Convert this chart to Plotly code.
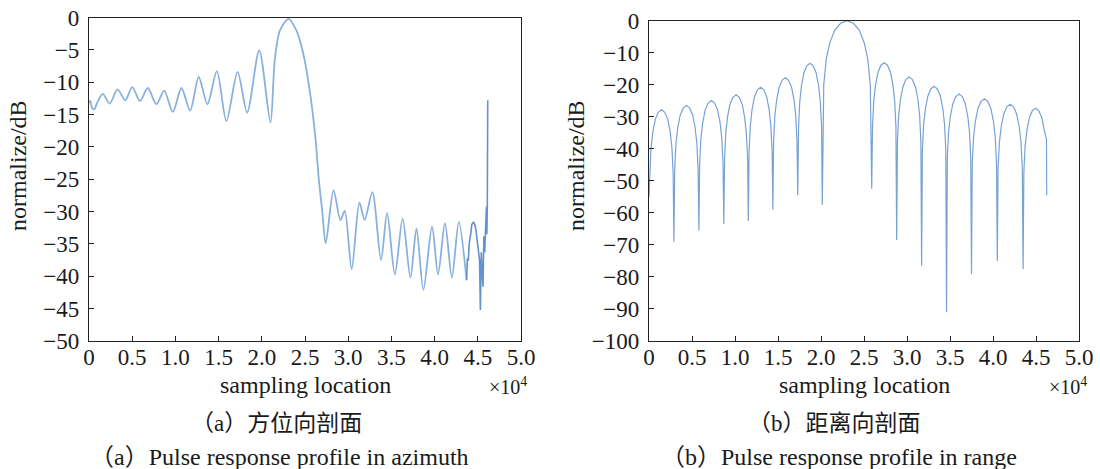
import plotly.graph_objects as go

# ---------------- data (x in units of 1e4 sampling locations, y in dB) ----------------
az_x = [0.000, 0.015, 0.035, 0.06, 0.10, 0.16, 0.24, 0.33, 0.42, 0.50, 0.59, 0.68, 0.78,
        0.87, 0.97, 1.07, 1.17, 1.27, 1.37, 1.48, 1.59, 1.72, 1.83, 1.97, 2.10, 2.15,
        2.21, 2.31, 2.40, 2.48, 2.56, 2.62, 2.66, 2.70, 2.74, 2.83, 2.91, 2.96, 3.04,
        3.13, 3.19, 3.28, 3.38, 3.45, 3.54, 3.63, 3.72, 3.79, 3.87, 3.97, 4.04, 4.12,
        4.20, 4.28, 4.37]
az_y = [-13.2, -12.9, -14.0, -14.2, -13.0, -11.8, -13.3, -11.1, -12.8, -10.75, -12.9, -10.9, -13.4,
        -11.3, -14.6, -10.9, -14.4, -9.2, -13.4, -8.3, -16.0, -8.4, -14.7, -5.1, -16.2, -6.6,
        -2.0, -0.2, -2.0, -5.6, -11.8, -18.5, -25.0, -30.0, -34.9, -26.7, -31.3, -29.9, -38.9,
        -28.6, -31.3, -27.0, -37.5, -30.2, -39.7, -31.1, -40.2, -32.6, -42.1, -32.3, -39.7, -31.8,
        -40.2, -31.6, -40.6]

az_tail_x = [4.37, 4.38, 4.39, 4.40, 4.42, 4.43, 4.45, 4.47, 4.48, 4.50, 4.51, 4.52, 4.53,
             4.54, 4.56, 4.57, 4.58, 4.59, 4.60, 4.605, 4.61, 4.615]
az_tail_y = [-40.6, -37.2, -37.6, -35.0, -33.3, -32.0, -31.6, -32.2, -33.0, -35.5, -37.0, -37.5, -45.2,
             -36.3, -41.6, -33.8, -36.3, -32.3, -29.2, -33.5, -29.2, -12.8]

rg_x = [0.000, 0.009, 0.023, 0.044, 0.073, 0.107, 0.145, 0.183, 0.218, 0.247, 0.267, 0.281, 0.290,
        0.299, 0.313, 0.334, 0.363, 0.397, 0.435, 0.473, 0.508, 0.537, 0.557, 0.571, 0.580,
        0.589, 0.603, 0.624, 0.653, 0.687, 0.725, 0.763, 0.798, 0.827, 0.847, 0.861, 0.870,
        0.879, 0.893, 0.913, 0.941, 0.976, 1.013, 1.050, 1.084, 1.112, 1.132, 1.147, 1.155,
        1.164, 1.178, 1.198, 1.226, 1.261, 1.298, 1.335, 1.369, 1.397, 1.417, 1.432, 1.440,
        1.449, 1.463, 1.484, 1.513, 1.547, 1.585, 1.623, 1.658, 1.687, 1.707, 1.721, 1.730,
        1.739, 1.753, 1.773, 1.801, 1.835, 1.873, 1.910, 1.944, 1.972, 1.992, 2.007, 2.015,
        2.032, 2.061, 2.101, 2.159, 2.228, 2.303, 2.377, 2.446, 2.504, 2.544, 2.573, 2.590,
        2.599, 2.613, 2.634, 2.663, 2.697, 2.735, 2.773, 2.808, 2.837, 2.857, 2.871, 2.880,
        2.889, 2.903, 2.924, 2.953, 2.987, 3.025, 3.063, 3.098, 3.127, 3.147, 3.161, 3.170,
        3.179, 3.193, 3.214, 3.243, 3.277, 3.315, 3.353, 3.388, 3.417, 3.437, 3.451, 3.460,
        3.469, 3.483, 3.504, 3.533, 3.567, 3.605, 3.643, 3.678, 3.707, 3.727, 3.741, 3.750,
        3.759, 3.774, 3.795, 3.825, 3.861, 3.900, 3.939, 3.975, 4.005, 4.026, 4.041, 4.050,
        4.059, 4.074, 4.095, 4.125, 4.161, 4.200, 4.239, 4.275, 4.305, 4.326, 4.341, 4.350,
        4.359, 4.373, 4.394, 4.423, 4.457, 4.495, 4.533, 4.568, 4.597, 4.622, 4.625]
rg_y = [-55.0, -47.8, -39.8, -34.8, -30.8, -28.6, -27.8, -28.6, -30.8, -34.8, -39.8, -47.8, -69.0,
        -46.5, -38.5, -33.5, -29.5, -27.3, -26.5, -27.3, -29.5, -33.5, -38.5, -46.5, -65.5,
        -44.9, -36.9, -31.9, -27.9, -25.7, -24.9, -25.7, -27.9, -31.9, -36.9, -44.9, -63.5,
        -43.1, -35.1, -30.1, -26.1, -23.9, -23.1, -23.9, -26.1, -30.1, -35.1, -43.1, -62.5,
        -40.8, -32.8, -27.8, -23.8, -21.6, -20.8, -21.6, -23.8, -27.8, -32.8, -40.8, -59.0,
        -37.8, -29.8, -24.8, -20.8, -18.6, -17.8, -18.6, -20.8, -24.8, -29.8, -37.8, -54.5,
        -33.3, -25.3, -20.3, -16.3, -14.1, -13.3, -14.1, -16.3, -20.3, -25.3, -33.3, -57.5,
        -20.0, -12.0, -7.0, -3.0, -0.8, 0.0, -0.8, -3.0, -7.0, -12.0, -20.0, -52.5,
        -33.1, -25.1, -20.1, -16.1, -13.9, -13.1, -13.9, -16.1, -20.1, -25.1, -33.1, -68.5,
        -37.6, -29.6, -24.6, -20.6, -18.4, -17.6, -18.4, -20.6, -24.6, -29.6, -37.6, -76.5,
        -40.5, -32.5, -27.5, -23.5, -21.3, -20.5, -21.3, -23.5, -27.5, -32.5, -40.5, -91.0,
        -42.9, -34.9, -29.9, -25.9, -23.7, -22.9, -23.7, -25.9, -29.9, -34.9, -42.9, -79.0,
        -44.4, -36.4, -31.4, -27.4, -25.2, -24.4, -25.2, -27.4, -31.4, -36.4, -44.4, -75.0,
        -46.1, -38.1, -33.1, -29.1, -26.9, -26.1, -26.9, -29.1, -33.1, -38.1, -46.1, -77.5,
        -47.3, -39.3, -34.3, -30.3, -28.1, -27.3, -28.1, -30.3, -34.3, -37.0, -54.5]

x_ticks = [0, 0.5, 1.0, 1.5, 2.0, 2.5, 3.0, 3.5, 4.0, 4.5, 5.0]
x_tick_text = ["0", "0.5", "1.0", "1.5", "2.0", "2.5", "3.0", "3.5", "4.0", "4.5", "5.0"]
az_y_ticks = [0, -5, -10, -15, -20, -25, -30, -35, -40, -45, -50]
rg_y_ticks = [0, -10, -20, -30, -40, -50, -60, -70, -80, -90, -100]

x_title = "sampling location"
y_title = "normalize/dB"
cap_cn = ["（a）方位向剖面", "（b）距离向剖面"]
cap_en = ["（a）Pulse response profile in azimuth", "（b）Pulse response profile in range"]

# ---------------- figure ----------------
W, H = 1100, 469
SERIF = "Liberation Serif, Times New Roman, serif"
CJK = "Liberation Serif, Noto Sans CJK SC, serif"
TXT = "#1a1a1a"

fig = go.Figure()
fig.add_trace(go.Scatter(x=az_x, y=az_y, mode="lines", xaxis="x", yaxis="y",
                         line=dict(color="rgb(136,177,222)", width=1.8, shape="spline", smoothing=0.8),
                         showlegend=False, hoverinfo="skip"))
fig.add_trace(go.Scatter(x=az_tail_x, y=az_tail_y, mode="lines", xaxis="x", yaxis="y",
                         line=dict(color="rgb(100,146,204)", width=1.6),
                         showlegend=False, hoverinfo="skip"))
fig.add_trace(go.Scatter(x=rg_x, y=rg_y, mode="lines", xaxis="x2", yaxis="y2",
                         line=dict(color="rgb(118,162,212)", width=1.2),
                         showlegend=False, hoverinfo="skip"))

def px(v):
    return v / W

def py(v):
    return 1 - v / H

axis_common = dict(showgrid=False, zeroline=False, showline=True, linecolor="#222",
                   linewidth=1.2, mirror=True, ticks="inside", ticklen=5, tickcolor="#222",
                   tickwidth=1, automargin=False,
                   tickfont=dict(family=SERIF, size=23, color=TXT))

fig.update_layout(
    width=W, height=H, margin=dict(l=0, r=0, t=0, b=0, autoexpand=False),
    paper_bgcolor="white", plot_bgcolor="white",
    xaxis=dict(domain=[px(89), px(521)], range=[0, 5], tickvals=x_ticks, ticktext=x_tick_text,
               anchor="y", ticklabelstandoff=-5, **axis_common),
    yaxis=dict(domain=[py(341), py(17.5)], range=[-50, 0], tickvals=az_y_ticks,
               ticktext=[("−" + str(-v)) if v < 0 else str(v) for v in az_y_ticks],
               anchor="x", ticklabelstandoff=4, **axis_common),
    xaxis2=dict(domain=[px(649), px(1079)], range=[0, 5], tickvals=x_ticks, ticktext=x_tick_text,
                anchor="y2", ticklabelstandoff=-5, **axis_common),
    yaxis2=dict(domain=[py(341), py(20.7)], range=[-100, 0], tickvals=rg_y_ticks,
                ticktext=[("−" + str(-v)) if v < 0 else str(v) for v in rg_y_ticks],
                anchor="x2", ticklabelstandoff=4, **axis_common),
)

anns = []
for cx, yx, cap_c, cap_e, rx in [(305, 18, cap_cn[0], cap_en[0], 529),
                                  (864, 576, cap_cn[1], cap_en[1], 1089)]:
    anns.append(dict(text=x_title, x=px(cx), y=py(385), xref="paper", yref="paper",
                     xanchor="center", yanchor="middle", showarrow=False,
                     font=dict(family=SERIF, size=24, color=TXT)))
    anns.append(dict(text="×10<sup>4</sup>", x=px(rx), y=py(386), xref="paper", yref="paper",
                     xanchor="right", yanchor="middle", showarrow=False,
                     font=dict(family=SERIF, size=20, color=TXT)))
    anns.append(dict(text=y_title, x=px(yx), y=py(166), xref="paper", yref="paper",
                     xanchor="center", yanchor="middle", showarrow=False, textangle=-90,
                     font=dict(family=SERIF, size=24, color=TXT)))
    anns.append(dict(text=cap_c, x=px(cx - 29), y=py(423), xref="paper", yref="paper",
                     xanchor="center", yanchor="middle", showarrow=False,
                     font=dict(family=CJK, size=23, color=TXT)))
    anns.append(dict(text=cap_e, x=px(cx - 25), y=py(457), xref="paper", yref="paper",
                     xanchor="center", yanchor="middle", showarrow=False,
                     font=dict(family=CJK, size=24, color=TXT)))
fig.update_layout(annotations=anns)

fig.write_html("out.html", config={"displayModeBar": False},
               post_script="document.body.style.margin='0px';document.body.style.overflow='hidden';")
